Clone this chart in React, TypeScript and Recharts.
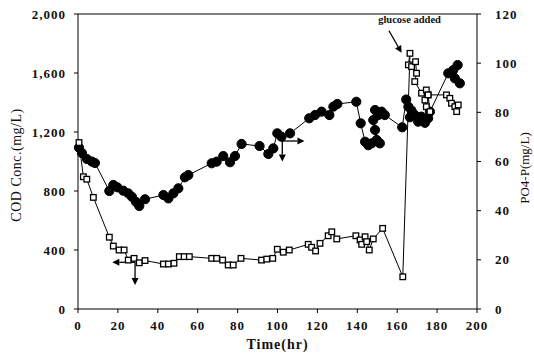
import React from "react";
import {
  ComposedChart,
  Line,
  XAxis,
  YAxis,
  ReferenceLine,
  ReferenceDot,
} from "recharts";

// COD (filled circles) — time (hr) and mg/L
const codTime = [
  0.5, 2, 4.5, 7, 8.5, 15.7, 17.7, 19.7, 22.7, 25.2, 27, 29, 30.7, 33.6, 42.8, 45.3, 47.8,
  50.3, 53.6, 55.3, 67, 69.5, 72.8, 76.2, 78.7, 82, 91, 95.4, 97.9, 99.9, 102, 106.3, 115.9,
  118.8, 122.1, 126, 128, 130, 139.5, 141.7, 143.9, 145.5, 147.2, 149.7, 151.3, 148.9, 148,
  148.9, 150.5, 152.2, 153.8, 162.5, 164.5, 165.6, 166.4, 167.2, 168.8, 170.5, 172.2, 173.9,
  175.5, 176.4, 185.6, 188.1, 190.3, 188.9, 191.4,
];
const codValue = [
  1094, 1057, 1017, 999, 990, 800, 841, 825, 802, 784, 761, 727, 698, 744, 773, 750, 784,
  818, 893, 908, 988, 999, 1037, 995, 1037, 1119, 1105, 1051, 1089, 1191, 1168, 1191, 1293,
  1315, 1338, 1315, 1372, 1390, 1405, 1259, 1134, 1110, 1123, 1146, 1123, 1214, 1281,
  1349, 1315, 1338, 1315, 1232, 1420, 1372, 1300, 1345, 1315, 1270, 1304, 1262, 1293, 1338,
  1598, 1620, 1654, 1564, 1530,
];

// PO4-P (open squares) — time (hr) and mg/L
const po4Time = [
  0.5, 2.7, 4.4, 7.7, 15.7, 17.7, 20.6, 23.1, 25.2, 28.1, 30.7, 33.6, 42.8, 45.3, 48.1,
  50.8, 53.2, 55.8, 67, 69.5, 72.5, 75.3, 77.8, 81.7, 92, 94.6, 97.6, 99.9, 102.9, 105.9,
  115.4, 117.1, 119.1, 121.3, 125.4, 127.2, 129.7, 139.3, 141.4, 142.2, 143.9, 144.7, 146,
  148, 152.7, 162.8, 166.4, 165.6, 167.2, 169.2, 169.7, 168.8, 172.2, 174.6, 175.5, 173.9,
  174.6, 176.4, 175.5, 184.7, 186.4, 187.2, 188.9, 189.8, 190.6,
];
const po4Value = [
  67.7, 53.8, 52.8, 45.4, 29.2, 25.6, 24, 24, 19.9, 20.6, 18.8, 19.7, 18.3, 18.3, 18.6,
  21.3, 21.3, 21.3, 20.6, 20.6, 19.9, 17.9, 17.9, 20.6, 19.9, 20.3, 20.6, 24.3, 23.1, 24,
  26.3, 25.1, 23.6, 26.7, 29.8, 31.4, 28.5, 29.8, 28.1, 26.3, 29.4, 27.4, 24, 28.5, 32.8,
  13.1, 104, 99.3, 98.6, 100.6, 95.9, 92.5, 87.8, 89.1, 87.1, 85, 82.3, 80.3, 87.1, 87.1,
  85.7, 83.7, 82.3, 80.3, 83,
];

const timeTicks = [0, 20, 40, 60, 80, 100, 120, 140, 160, 180, 200];
const codTicks = [0, 400, 800, 1200, 1600, 2000];
const po4Ticks = [0, 20, 40, 60, 80, 100, 120];

const codData = codTime.map((t, i) => ({ t, v: codValue[i] }));
const po4Data = po4Time.map((t, i) => ({ t, v: po4Value[i] }));

const FONT = "'Liberation Serif', 'Times New Roman', serif";
const tickStyle = {
  fontFamily: FONT,
  fontWeight: "bold",
  fontSize: 13,
  fill: "#111",
  letterSpacing: 1,
};

const CircleDot = (p: any) => {
  if (p.cx == null || p.cy == null) return null;
  return <circle key={p.index} cx={p.cx} cy={p.cy} r={4.6} fill="#000" stroke="#000" />;
};

const SquareDot = (p: any) => {
  if (p.cx == null || p.cy == null) return null;
  return (
    <rect
      key={p.index}
      x={p.cx - 2.8}
      y={p.cy - 2.8}
      width={5.6}
      height={5.6}
      fill="#fff"
      stroke="#000"
      strokeWidth={1.3}
    />
  );
};

// straight line with a filled arrow head at its end
const arrowShape = (p: any) => {
  const { x1, y1, x2, y2 } = p;
  const a = Math.atan2(y2 - y1, x2 - x1);
  const len = 7;
  const w = 3.5;
  const bx = x2 - len * Math.cos(a);
  const by = y2 - len * Math.sin(a);
  const pts = [
    `${x2},${y2}`,
    `${bx + w * Math.sin(a)},${by - w * Math.cos(a)}`,
    `${bx - w * Math.sin(a)},${by + w * Math.cos(a)}`,
  ].join(" ");
  return (
    <g>
      <line x1={x1} y1={y1} x2={bx} y2={by} stroke="#000" strokeWidth={1.3} />
      <polygon points={pts} fill="#000" />
    </g>
  );
};

export default function App() {
  return (
    <div style={{ position: "absolute", left: 0, top: 0, width: 534, height: 361, background: "#fff" }}>
      <ComposedChart width={534} height={361} margin={{ top: 14, right: 0, bottom: 0, left: 0 }}>
        <XAxis
          dataKey="t"
          type="number"
          domain={[0, 200]}
          ticks={timeTicks}
          allowDuplicatedCategory={false}
          height={52}
          stroke="#000"
          tickSize={4}
          tickMargin={8}
          tick={tickStyle}
          label={{
            content: ({ viewBox }: any) => (
              <text
                x={viewBox.x + viewBox.width / 2}
                y={349}
                textAnchor="middle"
                fontFamily={FONT}
                fontWeight="bold"
                fontSize={14}
                letterSpacing={1}
                fill="#111"
              >
                Time(hr)
              </text>
            ),
          }}
        />
        <YAxis
          yAxisId="cod"
          domain={[0, 2000]}
          ticks={codTicks}
          width={78}
          stroke="#000"
          tickSize={4}
          tickMargin={8}
          tick={tickStyle}
          tickFormatter={(v) => Number(v).toLocaleString("en-US")}
          label={{
            content: () => (
              <text
                x={18}
                y={165}
                transform="rotate(-90 18 165)"
                textAnchor="middle"
                dominantBaseline="middle"
                fontFamily={FONT}
                fontSize={14}
                letterSpacing={0.5}
                fill="#111"
              >
                COD Conc.(mg/L)
              </text>
            ),
          }}
        />
        <YAxis
          yAxisId="po4"
          orientation="right"
          domain={[0, 120]}
          ticks={po4Ticks}
          width={57}
          stroke="#000"
          tickSize={4}
          tickMargin={14}
          tick={tickStyle}
          label={{
            content: () => (
              <text
                x={526}
                y={168}
                transform="rotate(-90 526 168)"
                textAnchor="middle"
                dominantBaseline="middle"
                fontFamily={FONT}
                fontSize={13}
                fill="#111"
              >
                PO4-P(mg/L)
              </text>
            ),
          }}
        />
        <ReferenceLine yAxisId="cod" y={2000} stroke="#000" />
        <Line
          yAxisId="cod"
          data={codData}
          dataKey="v"
          type="linear"
          stroke="#000"
          strokeWidth={1}
          dot={CircleDot}
          activeDot={false}
          isAnimationActive={false}
        />
        <Line
          yAxisId="po4"
          data={po4Data}
          dataKey="v"
          type="linear"
          stroke="#000"
          strokeWidth={1}
          dot={SquareDot}
          activeDot={false}
          isAnimationActive={false}
        />
        {/* arrows pointing to the axes */}
        <ReferenceLine
          yAxisId="cod"
          segment={[{ x: 102.4, y: 1166 }, { x: 102.4, y: 1000 }]}
          shape={arrowShape}
          ifOverflow="visible"
        />
        <ReferenceLine
          yAxisId="cod"
          segment={[{ x: 102.4, y: 1139 }, { x: 113.5, y: 1139 }]}
          shape={arrowShape}
          ifOverflow="visible"
        />
        <ReferenceLine
          yAxisId="po4"
          segment={[{ x: 28.6, y: 19 }, { x: 17.2, y: 19 }]}
          shape={arrowShape}
          ifOverflow="visible"
        />
        <ReferenceLine
          yAxisId="po4"
          segment={[{ x: 28.6, y: 19 }, { x: 28.6, y: 9.8 }]}
          shape={arrowShape}
          ifOverflow="visible"
        />
        <ReferenceLine
          yAxisId="po4"
          segment={[{ x: 155.9, y: 113.2 }, { x: 162.2, y: 104.2 }]}
          shape={arrowShape}
          ifOverflow="visible"
        />
        <ReferenceDot
          yAxisId="po4"
          x={166.2}
          y={117.2}
          r={0}
          ifOverflow="visible"
          shape={(p: any) => (
            <text
              x={p.cx}
              y={p.cy}
              textAnchor="middle"
              dominantBaseline="middle"
              fontFamily={FONT}
              fontWeight="bold"
              fontSize={10.5}
              fill="#111"
            >
              glucose added
            </text>
          )}
        />
      </ComposedChart>
    </div>
  );
}
